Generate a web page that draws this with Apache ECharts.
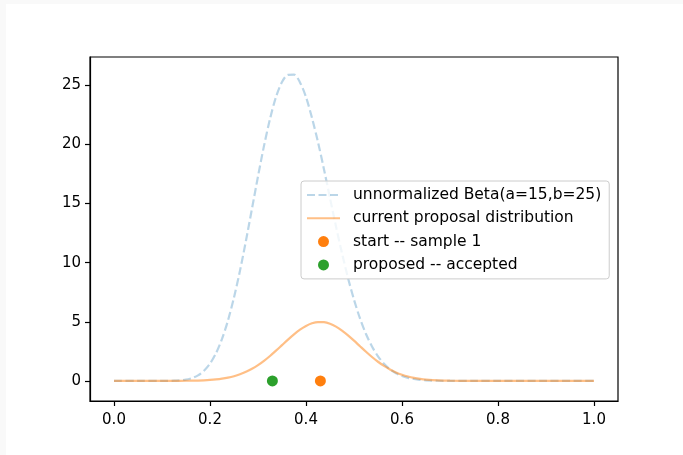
<!DOCTYPE html>
<html>
<head>
<meta charset="utf-8">
<script src="https://cdn.jsdelivr.net/npm/echarts@6/dist/echarts.min.js"></script>
<style>
  html, body { margin: 0; padding: 0; background: #f9f9f9; }
  #panel { position: absolute; left: 6px; top: 4px; right: 0; bottom: 0; background: #ffffff; }
  #chart { position: absolute; left: 0; top: 0; width: 683px; height: 455px; }
</style>
</head>
<body>
<div id="panel"></div>
<div id="chart"></div>
<script>
// ---- data ----
const xs = [0, 0.05, 0.1, 0.125, 0.15, 0.1625, 0.175, 0.1875, 0.2, 0.2125, 0.225, 0.2375, 0.25, 0.2625, 0.275, 0.2875, 0.3, 0.3125, 0.325, 0.3375, 0.35, 0.3625, 0.375, 0.3875, 0.4, 0.4125, 0.425, 0.4375, 0.45, 0.4625, 0.475, 0.4875, 0.5, 0.5125, 0.525, 0.5375, 0.55, 0.5625, 0.575, 0.5875, 0.6, 0.6125, 0.625, 0.6375, 0.65, 0.675, 0.7, 0.75, 0.8, 0.9, 1.0];
const betaValues = [0, 0, 0.002, 0.017, 0.11, 0.24, 0.47, 0.86, 1.46, 2.34, 3.55, 5.12, 7.06, 9.33, 11.88, 14.58, 17.30, 19.88, 22.16, 24.02, 25.28, 25.89, 25.91, 25.25, 24.01, 22.24, 20.20, 17.89, 15.47, 13.06, 10.80, 8.71, 6.87, 5.28, 3.97, 2.91, 2.08, 1.45, 0.98, 0.65, 0.42, 0.26, 0.16, 0.09, 0.05, 0.015, 0.004, 0, 0, 0, 0];
const proposalValues = [0, 0, 0.001, 0.0035, 0.011, 0.019, 0.031, 0.050, 0.080, 0.124, 0.187, 0.276, 0.397, 0.557, 0.764, 1.021, 1.333, 1.697, 2.109, 2.557, 3.027, 3.496, 3.94, 4.333, 4.651, 4.872, 4.98, 4.968, 4.836, 4.595, 4.26, 3.854, 3.403, 2.932, 2.466, 2.023, 1.620, 1.266, 0.966, 0.718, 0.522, 0.370, 0.256, 0.173, 0.114, 0.046, 0.017, 0.001, 0, 0, 0];
const startPoint = [0.43, 0];
const proposedPoint = [0.33, 0];
const xTicks = [0, 0.2, 0.4, 0.6, 0.8, 1.0];
const yTicks = [0, 5, 10, 15, 20, 25];
const seriesNames = ['unnormalized Beta(a=15,b=25)', 'current proposal distribution', 'start -- sample 1', 'proposed -- accepted'];

const FONT = 'DejaVu Sans';
const chart = echarts.init(document.getElementById('chart'), null, { renderer: 'canvas' });

function pairs(x, y) { return x.map((v, i) => [v, y[i]]); }

const option = {
  animation: false,
  backgroundColor: 'transparent',
  grid: {
    left: 90, top: 57, width: 528, height: 344,
    show: true, borderColor: '#000', borderWidth: 1.2, backgroundColor: 'transparent'
  },
  xAxis: {
    type: 'value', min: -0.05, max: 1.05,
    axisLine: { show: true, onZero: false, lineStyle: { color: '#000', width: 1.2 } },
    splitLine: { show: false },
    axisTick: { show: true, inside: false, length: 5, lineStyle: { color: '#000', width: 1.2 }, customValues: xTicks },
    axisLabel: { customValues: xTicks, formatter: v => v.toFixed(1), color: '#000', fontSize: 15, fontFamily: FONT, margin: 12 }
  },
  yAxis: {
    type: 'value', min: -1.7, max: 27.4,
    axisLine: { show: true, onZero: false, lineStyle: { color: '#000', width: 1.2 } },
    splitLine: { show: false },
    axisTick: { show: true, inside: false, length: 5, lineStyle: { color: '#000', width: 1.2 }, customValues: yTicks },
    axisLabel: { customValues: yTicks, formatter: v => String(v), color: '#000', fontSize: 15, fontFamily: FONT, margin: 9 }
  },
  legend: {
    orient: 'vertical', left: 301, top: 181,
    padding: [6, 8, 6, 5], itemGap: 7.3, itemWidth: 33, itemHeight: 11,
    backgroundColor: 'rgba(255,255,255,0.8)', borderColor: '#cccccc', borderWidth: 1, borderRadius: 3,
    textStyle: { fontFamily: FONT, fontSize: 15.5, color: '#000', lineHeight: 14, padding: [0, 0, 0, 8] },
    data: [
      { name: seriesNames[0], itemStyle: { opacity: 0 } },
      { name: seriesNames[1], itemStyle: { opacity: 0 } },
      { name: seriesNames[2], icon: 'circle' },
      { name: seriesNames[3], icon: 'circle' }
    ]
  },
  series: [
    {
      name: seriesNames[0], type: 'line', data: pairs(xs, betaValues),
      showSymbol: false, symbol: 'none', smooth: 0.3,
      lineStyle: { color: 'rgba(31,119,180,0.3)', width: 2.2, type: [8, 3.5] },
      itemStyle: { color: 'rgba(31,119,180,0.3)' }, z: 2
    },
    {
      name: seriesNames[1], type: 'line', data: pairs(xs, proposalValues),
      showSymbol: false, symbol: 'none', smooth: 0.3,
      lineStyle: { color: 'rgba(255,127,14,0.5)', width: 2.2 },
      itemStyle: { color: 'rgba(255,127,14,0.5)' }, z: 3
    },
    {
      name: seriesNames[2], type: 'scatter', data: [startPoint], symbolSize: 11,
      itemStyle: { color: '#ff7f0e', opacity: 1 }, z: 4
    },
    {
      name: seriesNames[3], type: 'scatter', data: [proposedPoint], symbolSize: 11,
      itemStyle: { color: '#2ca02c', opacity: 1 }, z: 4
    }
  ]
};
chart.setOption(option);
</script>
</body>
</html>
